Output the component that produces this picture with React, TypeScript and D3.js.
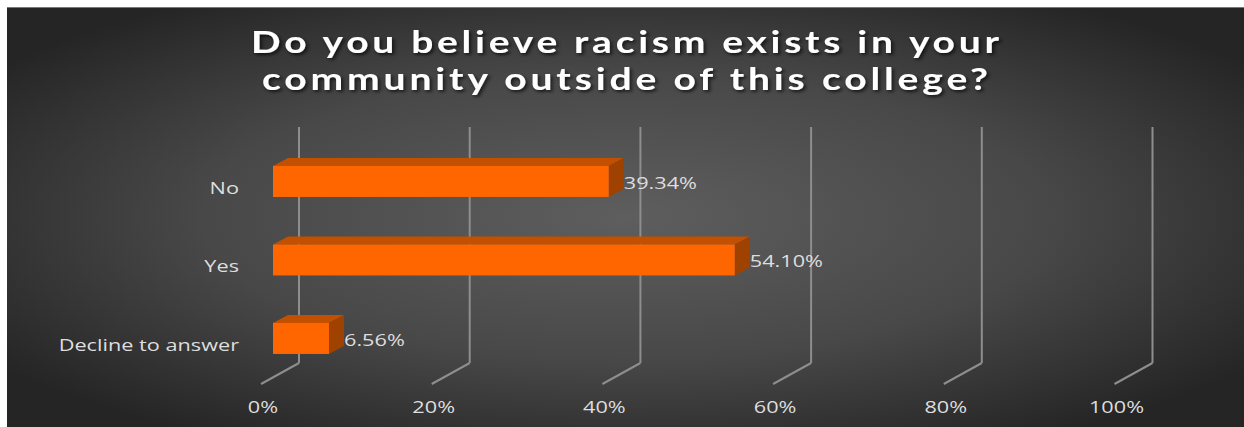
import React from 'react';
import * as d3 from 'd3';

const categories = ['No', 'Yes', 'Decline to answer'];
const values = [0.3934, 0.541, 0.0656];
const valueLabels = ['39.34%', '54.10%', '6.56%'];
const ticks = [0, 0.2, 0.4, 0.6, 0.8, 1.0];
const tickLabels = ['0%', '20%', '40%', '60%', '80%', '100%'];
const titleLines = ['Do you believe racism exists in your', 'community outside of this college?'];

const W = 1244;
const H = 427;
const SX = 1.4; // horizontal stretch of label text
const TSX = 1.3; // horizontal stretch of title text

export default function App() {
  // front (floor edge) scale
  const x = d3.scaleLinear().domain([0, 1]).range([261, 1114.5]);
  const depthDX = 38;
  const depthDY = -21;
  const floorY = 384;
  const wallTop = 127;
  const barOff = 12; // bar front offset from floor front
  const barDX = 15;
  const barDY = -8;

  const y = d3
    .scaleBand<string>()
    .domain(categories)
    .range([142.4, 377.5])
    .paddingInner(0.605)
    .paddingOuter(0.3);

  const font = "'Open Sans', 'DejaVu Sans', sans-serif";
  const titleFont = "Lato, 'Open Sans', sans-serif";
  const labelColor = '#dedede';

  return (
    <svg width={W} height={H} style={{ position: 'absolute', left: 0, top: 0 }}>
      <defs>
        <radialGradient id="bg" cx="0.5" cy="0.5" r="0.62" fx="0.5" fy="0.5">
          <stop offset="0" stopColor="#5e5e5e" />
          <stop offset="0.55" stopColor="#484848" />
          <stop offset="1" stopColor="#252525" />
        </radialGradient>
        <filter id="shadow" x="-10%" y="-30%" width="120%" height="160%">
          <feDropShadow dx="1.5" dy="2" stdDeviation="1.5" floodColor="#000" floodOpacity="0.7" />
        </filter>
      </defs>
      <rect x={0} y={0} width={W} height={H} fill="#ffffff" />
      <rect x={7} y={7} width={W - 7} height={H - 7} fill="url(#bg)" />
      <line x1={7} x2={W} y1={7.5} y2={7.5} stroke="#777" strokeWidth={1} />

      {/* Title */}
      {titleLines.map((t, i) => (
        <text
          key={i}
          transform={`translate(625,${53 + i * 37}) scale(${TSX},1)`}
          textAnchor="middle"
          fill="#ffffff"
          fontFamily={titleFont}
          fontWeight={700}
          fontSize={30}
          textLength={(i === 0 ? 748 : 726) / TSX}
          lengthAdjust="spacing"
          filter="url(#shadow)"
        >
          {t}
        </text>
      ))}

      {/* gridlines: back wall + floor diagonal */}
      {ticks.map((t, i) => {
        const fx = x(t);
        const bx = fx + depthDX;
        const by = floorY + depthDY;
        return (
          <g key={i} stroke="#8e8e8e" strokeWidth={2} fill="none">
            <line x1={bx} x2={bx} y1={wallTop} y2={by} />
            <line x1={bx} y1={by} x2={fx} y2={floorY} />
          </g>
        );
      })}

      {/* tick labels */}
      {ticks.map((t, i) => (
        <text
          key={i}
          transform={`translate(${x(t) + 2},${413}) scale(${SX},1)`}
          textAnchor="middle"
          fill={labelColor}
          fontFamily={font}
          fontSize={15.5}
        >
          {tickLabels[i]}
        </text>
      ))}

      {/* bars */}
      {categories.map((c, i) => {
        const xl = x(0) + barOff;
        const xr = x(values[i]) + barOff;
        const yt = y(c) as number;
        const h = y.bandwidth();
        const yb = yt + h;
        return (
          <g key={c}>
            <polygon
              points={`${xl},${yt} ${xl + barDX},${yt + barDY} ${xr + barDX},${yt + barDY} ${xr},${yt}`}
              fill="#c25000"
            />
            <polygon
              points={`${xr},${yt} ${xr + barDX},${yt + barDY} ${xr + barDX},${yb + barDY} ${xr},${yb}`}
              fill="#9f4200"
            />
            <rect x={xl} y={yt} width={xr - xl} height={h} fill="#ff6600" />
            <text
              transform={`translate(${xr + 15},${yt + 23}) scale(${SX},1)`}
              fill={labelColor}
              fontFamily={font}
              fontSize={15.5}
            >
              {valueLabels[i]}
            </text>
            <text
              transform={`translate(${239},${yt + 28}) scale(${SX},1)`}
              textAnchor="end"
              fill={labelColor}
              fontFamily={font}
              fontSize={15.5}
            >
              {c}
            </text>
          </g>
        );
      })}
    </svg>
  );
}
